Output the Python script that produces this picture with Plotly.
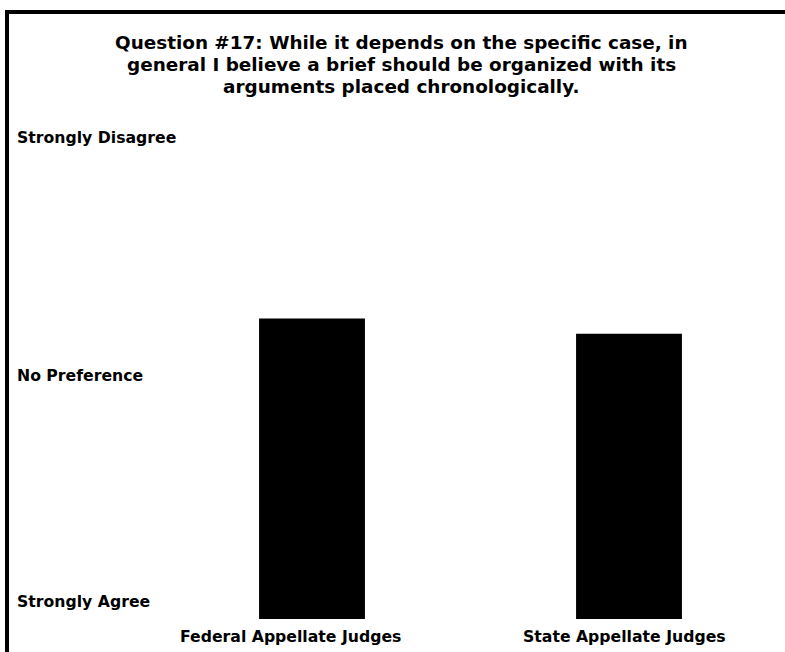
import plotly.graph_objects as go

categories = ["Federal Appellate Judges", "State Appellate Judges"]
values = [3.59, 3.46]
scale_values = [1, 3, 5]
scale_labels = ["Strongly Agree", "No Preference", "Strongly Disagree"]
title_lines = [
    "Question #17: While it depends on the specific case, in",
    "general I believe a brief should be organized with its",
    "arguments placed chronologically.",
]

FONT = "DejaVu Sans, Verdana, sans-serif"
W, H = 785, 652
L, R, T, B = 17, 0, 120, 33
PX_PER_UNIT = 116
base = scale_values[0]
plot_w = W - L - R
plot_h = H - T - B

fig = go.Figure()
fig.add_trace(go.Bar(
    x=list(range(len(categories))), y=[v - base for v in values], base=base,
    width=0.334, marker=dict(color="#000000", line=dict(width=0)),
    hoverinfo="skip",
))

annotations = []
label_nudge = [0, -6, 0]
for v, lab, nd in zip(scale_values, scale_labels, label_nudge):
    annotations.append(dict(
        x=0, xref="paper", y=v, yref="y", xanchor="left", yanchor="middle",
        xshift=-2, yshift=18 + nd, text="<b>%s</b>" % lab, showarrow=False,
        font=dict(family=FONT, size=15.7, color="#000"),
    ))
x_shifts = [-22, -5]
for i, (cat, xs) in enumerate(zip(categories, x_shifts)):
    annotations.append(dict(
        x=i, xref="x", y=0, yref="paper", xanchor="center", yanchor="middle",
        yshift=-17, xshift=xs, text="<b>%s</b>" % cat, showarrow=False,
        font=dict(family=FONT, size=15.7, color="#000"),
    ))
for k, line in enumerate(title_lines):
    center_y = 42 + 22 * k
    annotations.append(dict(
        x=0.5, xref="paper", y=1, yref="paper", yanchor="middle", xanchor="center",
        yshift=(T - center_y), text="<b>%s</b>" % line, showarrow=False,
        font=dict(family=FONT, size=18.4, color="#000"),
    ))

x0 = (7 - L) / plot_w
y1 = (H - B - 12) / plot_h

fig.update_layout(
    width=W, height=H,
    margin=dict(l=L, r=R, t=T, b=B, pad=0),
    paper_bgcolor="white", plot_bgcolor="white",
    showlegend=False,
    xaxis=dict(range=[(L - 312) / 317, (W - R - 312) / 317],
               showticklabels=False, showgrid=False, zeroline=False,
               showline=False, ticks="", fixedrange=True),
    yaxis=dict(range=[base, base + plot_h / PX_PER_UNIT], showticklabels=False,
               showgrid=False, zeroline=False, showline=False, ticks="",
               fixedrange=True),
    annotations=annotations,
    shapes=[dict(type="rect", xref="paper", yref="paper", x0=x0, x1=1.2,
                 y0=-0.3, y1=y1, line=dict(color="#000", width=4),
                 fillcolor="rgba(0,0,0,0)", layer="above")],
)

fig.write_html(
    "out.html",
    config={"displayModeBar": False},
    post_script="document.body.style.margin='0';document.body.style.overflow='hidden';",
)
